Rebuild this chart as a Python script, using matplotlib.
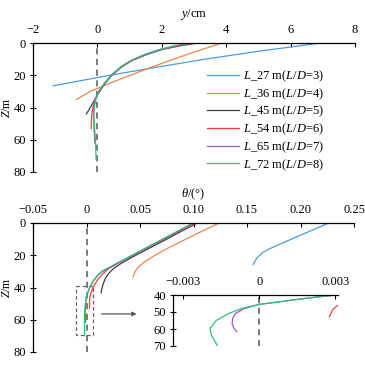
import matplotlib
matplotlib.use("Agg")
import matplotlib.pyplot as plt
from matplotlib.patches import Rectangle
import numpy as np

plt.rcParams['font.family'] = ['Liberation Serif', 'DejaVu Serif']
plt.rcParams['mathtext.fontset'] = 'custom'
plt.rcParams['mathtext.rm'] = 'Liberation Serif'
plt.rcParams['mathtext.it'] = 'Liberation Serif:italic'
plt.rcParams['axes.unicode_minus'] = True

# ---------------- data ----------------
labels = ["$L$_27 m($L$/$D$=3)", "$L$_36 m($L$/$D$=4)", "$L$_45 m($L$/$D$=5)",
          "$L$_54 m($L$/$D$=6)", "$L$_65 m($L$/$D$=7)", "$L$_72 m($L$/$D$=8)"]
colors = ["#4a9be0", "#e8874a", "#3c3c3c", "#ff3b3b", "#9b59d0", "#2fbf71"]

# deflection y (cm) vs depth Z (m)
y27_z = [0, 5, 10, 15, 20, 25, 26.5]
y27_v = [6.94, 5.05, 3.35, 1.85, 0.38, -0.95, -1.37]
y36_z = [0, 5, 10, 15, 20, 25, 30, 35]
y36_v = [3.87, 3.10, 2.37, 1.68, 1.02, 0.38, -0.22, -0.65]
y45_z = [0, 2, 4, 7, 11, 15, 20, 25, 30, 35, 40, 44]
y45_v = [3.09, 2.50, 2.02, 1.55, 1.06, 0.74, 0.45, 0.24, 0.07, -0.08, -0.22, -0.34]
y54_z = [0, 2, 4, 7, 11, 15, 20, 25, 30, 35, 40, 45, 50, 53]
y54_v = [2.96, 2.42, 1.98, 1.52, 1.05, 0.73, 0.44, 0.22, 0.05, -0.07, -0.14, -0.18, -0.19, -0.19]
y65_z = [0, 2, 4, 7, 11, 15, 20, 25, 30, 35, 40, 45, 50, 55, 62]
y65_v = [2.90, 2.38, 1.96, 1.50, 1.04, 0.72, 0.44, 0.22, 0.04, -0.06, -0.11, -0.12, -0.11, -0.10, -0.08]
y72_z = [0, 2, 4, 7, 11, 15, 20, 25, 30, 35, 40, 45, 50, 55, 60, 66, 72]
y72_v = [2.83, 2.34, 1.94, 1.48, 1.02, 0.71, 0.43, 0.22, 0.04, -0.05, -0.10, -0.11, -0.10, -0.08, -0.06, -0.05, -0.04]

# rotation theta (deg) vs depth Z (m)
t27_z = [0, 4, 8.7, 12, 15.9, 18, 20, 22, 23.5, 25.8]
t27_v = [0.2265, 0.2125, 0.196, 0.1845, 0.1713, 0.1655, 0.1618, 0.1590, 0.1575, 0.1558]
t36_z = [0, 4, 8, 12, 16, 20, 24, 27, 29, 31, 33.5]
t36_v = [0.124, 0.1115, 0.099, 0.087, 0.075, 0.064, 0.0545, 0.049, 0.0465, 0.0448, 0.0436]
t45_z = [0, 5, 10, 15, 20, 25, 28, 30, 32, 35, 38, 41, 43.2]
t45_v = [0.1035, 0.089, 0.075, 0.0605, 0.046, 0.0325, 0.0258, 0.0225, 0.0198, 0.0172, 0.0155, 0.0143, 0.0137]
t54_z = [0, 5, 10, 15, 20, 25, 28, 30, 32, 35, 38, 41, 44, 46, 48.4, 52.8]
t54_v = [0.1015, 0.087, 0.0725, 0.058, 0.0435, 0.0295, 0.0215, 0.0178, 0.0146, 0.0106, 0.0077, 0.0055, 0.0040,
         0.0031, 0.0029, 0.00276]
t65_z = [0, 5, 10, 15, 20, 25, 28, 29.3, 30, 32, 35.5, 38, 40, 42, 44, 45.5, 48, 51, 54, 57, 59.5, 61.6]
t65_v = [0.1002, 0.0860, 0.0717, 0.0575, 0.0432, 0.0290, 0.0205, 0.0170, 0.0150, 0.0113, 0.0068, 0.0047, 0.003,
         0.0018, 0.0008, 0.0, -0.0006, -0.00095, -0.00105, -0.00107, -0.001, -0.00089]
t72_z = [0, 5, 10, 15, 20, 25, 28, 29.3, 30, 32, 35.5, 38, 40, 42, 44, 45.5, 48, 50.8, 55, 59.6, 63, 66, 70]
t72_v = [0.0995, 0.0853, 0.0710, 0.0568, 0.0425, 0.0283, 0.0198, 0.0161, 0.0143, 0.0108, 0.0068, 0.0047, 0.003,
         0.0018, 0.0008, 0.0, -0.0007, -0.00120, -0.0017, -0.00194, -0.0019, -0.0018, -0.00164]

y_series = [(y27_z, y27_v), (y36_z, y36_v), (y45_z, y45_v), (y54_z, y54_v), (y65_z, y65_v), (y72_z, y72_v)]
t_series = [(t27_z, t27_v), (t36_z, t36_v), (t45_z, t45_v), (t54_z, t54_v), (t65_z, t65_v), (t72_z, t72_v)]

top_xticks = [-2, 0, 2, 4, 6, 8]
top_xticklabels = ["\u22122", "0", "2", "4", "6", "8"]
bot_xticks = [-0.05, 0, 0.05, 0.10, 0.15, 0.20, 0.25]
bot_xticklabels = ["\u22120.05", "0", "0.05", "0.10", "0.15", "0.20", "0.25"]
ins_xticks = [-0.003, 0, 0.003]
ins_xticklabels = ["\u22120.003", "0", "0.003"]
z_ticks = [0, 20, 40, 60, 80]
ins_zticks = [40, 50, 60, 70]

# ---------------- figure ----------------
W, H = 365, 367
fig = plt.figure(figsize=(W / 100, H / 100), dpi=100)


def box(l, r, t, b):
    return [l / W, 1 - b / H, (r - l) / W, (b - t) / H]


FS = 9
LW = 0.9


def style(ax):
    for s in ['right', 'bottom']:
        ax.spines[s].set_visible(False)
    for s in ['top', 'left']:
        ax.spines[s].set_linewidth(0.9)
    ax.xaxis.tick_top()
    ax.tick_params(axis='x', direction='in', length=3, width=0.8, labelsize=FS, pad=5)
    ax.tick_params(axis='y', direction='inout', length=5, width=0.8, labelsize=FS, pad=2.5)


# top panel
ax1 = fig.add_axes(box(33, 355, 43, 172))
for (z, v), c, lab in zip(y_series, colors, labels):
    ax1.plot(v, z, color=c, lw=LW, label=lab)
ax1.axvline(0, color='#555555', lw=1.1, ls=(0, (4, 3)), zorder=0)
ax1.set_xlim(-2, 8)
ax1.set_ylim(80, 0)
ax1.set_xticks(top_xticks)
ax1.set_xticklabels(top_xticklabels)
ax1.set_yticks(z_ticks)
style(ax1)
ax1.set_xlabel("$y$/cm", fontsize=FS, labelpad=5)
ax1.xaxis.set_label_position('top')
ax1.set_ylabel("$Z$/m", fontsize=8.5)
ax1.yaxis.set_label_coords(-0.062, 0.5)
ax1.legend(loc='upper left', bbox_to_anchor=(0.525, 0.84), frameon=False, fontsize=FS,
           handlelength=2.55, handletextpad=0.32, labelspacing=0.18, borderaxespad=0)

# bottom panel
ax2 = fig.add_axes(box(33, 354, 223, 352))
for (z, v), c in zip(t_series, colors):
    ax2.plot(v, z, color=c, lw=LW)
ax2.axvline(0, color='#555555', lw=1.1, ls=(0, (4, 3)), zorder=0)
ax2.set_xlim(-0.05, 0.25)
ax2.set_ylim(80, 0)
ax2.set_xticks(bot_xticks)
ax2.set_xticklabels(bot_xticklabels)
ax2.set_yticks(z_ticks)
style(ax2)
ax2.set_xlabel("$\\theta$/(\u00b0)", fontsize=FS, labelpad=5)
ax2.xaxis.set_label_position('top')
ax2.set_ylabel("$Z$/m", fontsize=8.5)
ax2.yaxis.set_label_coords(-0.062, 0.5)
ax2.add_patch(Rectangle((-0.0102, 39.1), 0.0167, 30.4, fill=False, ec='#666666',
                        lw=0.9, ls=(0, (3, 2))))
ax2.annotate("", xy=(0.0494, 56.4), xytext=(0.0115, 56.4),
             arrowprops=dict(arrowstyle='-|>', color='#555555', lw=0.9, mutation_scale=6))

# inset
ax3 = fig.add_axes(box(173, 338, 295, 346))
for (z, v), c in zip(t_series[3:], colors[3:]):
    ax3.plot(v, z, color=c, lw=LW)
ax3.axvline(0, color='#555555', lw=1.1, ls=(0, (4, 3)), zorder=0)
ax3.set_xlim(-0.0034, 0.0031)
ax3.set_ylim(70, 40)
ax3.set_xticks(ins_xticks)
ax3.set_xticklabels(ins_xticklabels)
ax3.set_yticks(ins_zticks)
style(ax3)
ax3.patch.set_alpha(0)

fig.savefig("out.png", dpi=100)
